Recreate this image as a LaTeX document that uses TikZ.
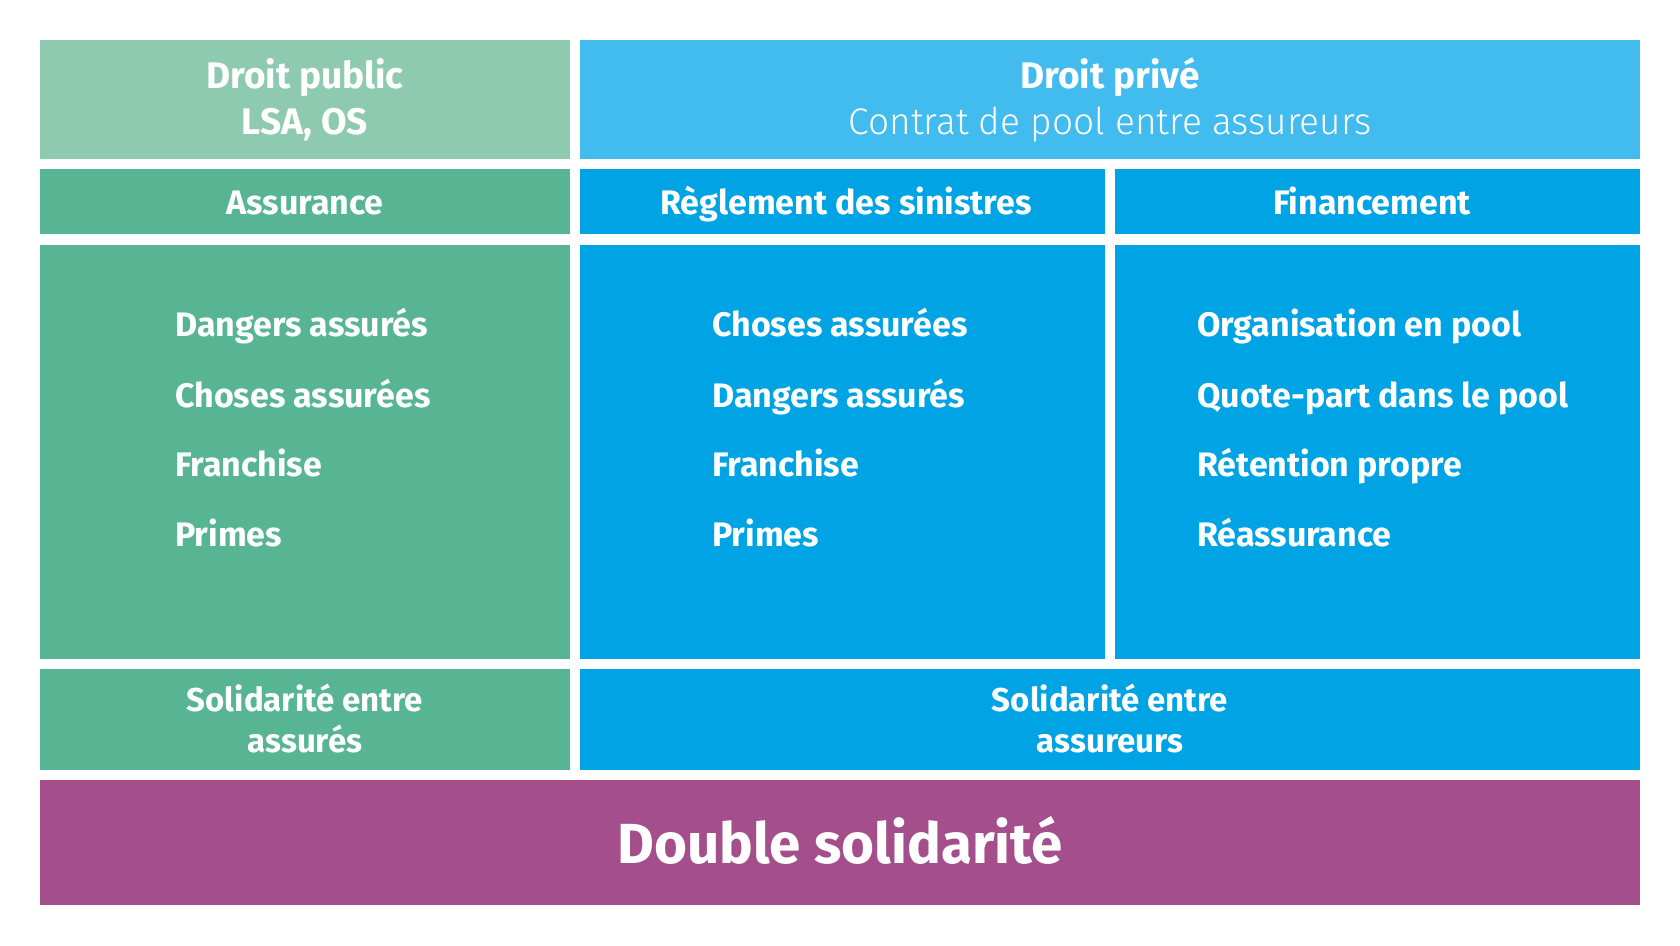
\documentclass[tikz,border=0pt]{standalone}
\usepackage{fontspec}
\setmainfont{Fira Sans}
\newfontfamily\lightfont{Fira Sans Light}
\definecolor{lgreen}{HTML}{8ECAB0}
\definecolor{dgreen}{HTML}{57B594}
\definecolor{lblue}{HTML}{42BCEE}
\definecolor{dblue}{HTML}{00A3E4}
\definecolor{purp}{HTML}{A54E8C}
\tikzset{
  txt/.style={text=white, inner sep=0pt, anchor=base, font=\bfseries\fontsize{34}{40}\selectfont},
  sol/.style={txt, font=\bfseries\fontsize{33}{40}\selectfont},
  ttl/.style={txt, font=\bfseries\fontsize{37}{44}\selectfont},
  lst/.style={text=white, inner sep=0pt, anchor=base west, font=\bfseries\fontsize{34}{40}\selectfont},
}
\begin{document}
\begin{tikzpicture}[x=1pt,y=-1pt]
\useasboundingbox (0,0) rectangle (1680,945);
% boxes
\fill[lgreen] (40,40) rectangle (570,159);
\fill[lblue] (580,40) rectangle (1640,159);
\fill[dgreen] (40,169) rectangle (570,234);
\fill[dblue] (580,169) rectangle (1105,234);
\fill[dblue] (1115,169) rectangle (1640,234);
\fill[dgreen] (40,245) rectangle (570,659);
\fill[dblue] (580,245) rectangle (1105,659);
\fill[dblue] (1115,245) rectangle (1640,659);
\fill[dgreen] (40,669) rectangle (570,770);
\fill[dblue] (580,669) rectangle (1640,770);
\fill[purp] (40,780) rectangle (1640,905);
% titles
\node[ttl] (dp1) at (305,88) {Droit public};
\node[ttl] (dp2) at (305,134) {LSA, OS};
\node[ttl] (dpr1) at (1110,88) {Droit privé};
\node[txt, font=\lightfont\fontsize{37}{44}\selectfont] (dpr2) at (1110,134) {Contrat de pool entre assureurs};
% headers
\node[txt] (h1) at (305,214) {Assurance};
\node[txt] (h2) at (846,214) {Règlement des sinistres};
\node[txt] (h3) at (1372,214) {Financement};
% lists
\node[lst] (a1) at (175,336) {Dangers assurés};
\node[lst] (a2) at (175,407) {Choses assurées};
\node[lst] (a3) at (175,476) {Franchise};
\node[lst] (a4) at (175,546) {Primes};
\node[lst] (b1) at (712,336) {Choses assurées};
\node[lst] (b2) at (712,407) {Dangers assurés};
\node[lst] (b3) at (712,476) {Franchise};
\node[lst] (b4) at (712,546) {Primes};
\node[lst] (c1) at (1197,336) {Organisation en pool};
\node[lst] (c2) at (1197,407) {Quote-part dans le pool};
\node[lst] (c3) at (1197,476) {Rétention propre};
\node[lst] (c4) at (1197,546) {Réassurance};
% solidarity
\node[sol] (s1) at (305,711) {Solidarité entre};
\node[sol] (s2) at (305,752) {assurés};
\node[sol] (s3) at (1110,711) {Solidarité entre};
\node[sol] (s4) at (1110,752) {assureurs};
\node[txt, font=\bfseries\fontsize{56.5}{66}\selectfont] (ds) at (840,863) {Double solidarité};
\end{tikzpicture}
\end{document}
